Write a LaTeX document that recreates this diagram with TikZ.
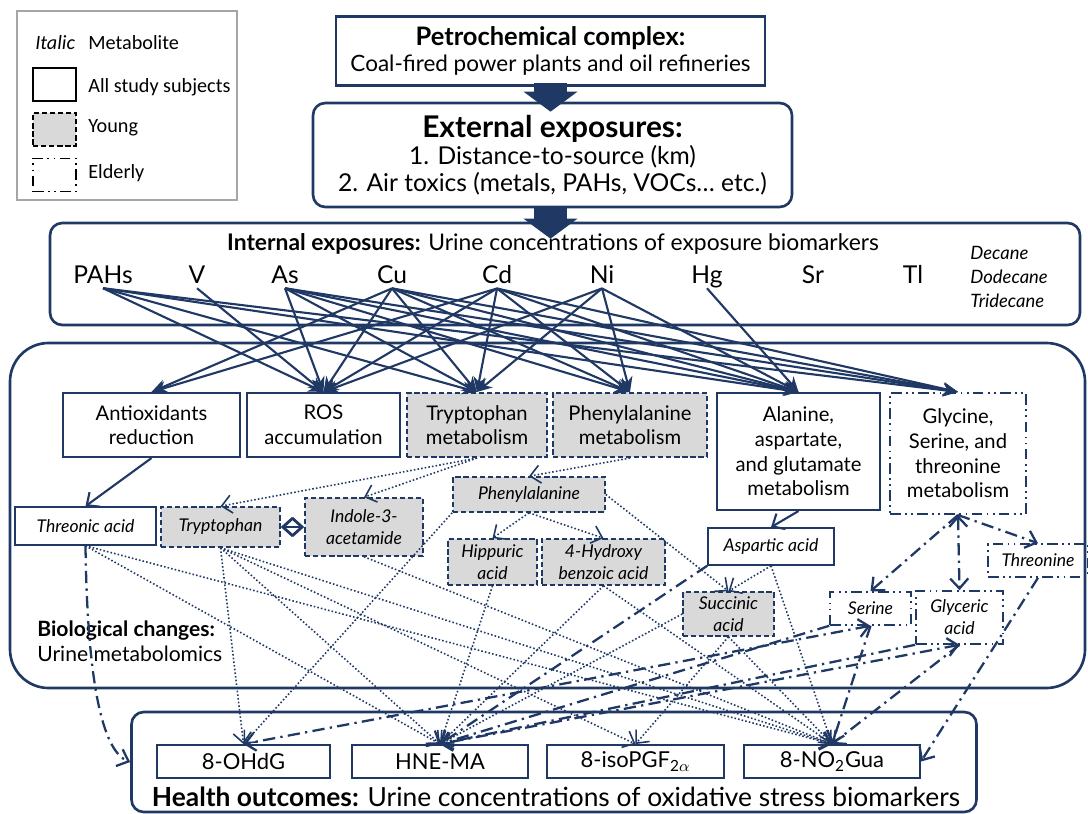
\documentclass[tikz,border=0pt]{standalone}
\usepackage{fontspec}
\setmainfont{Lato}
\newfontfamily\legendfont{Carlito}
\usepackage{tikz}
\usetikzlibrary{arrows.meta, positioning, calc}
\definecolor{navyline}{RGB}{32, 56, 100}
\definecolor{younggray}{RGB}{217, 217, 217}

\begin{document}
\begin{tikzpicture}[x=0.02cm, y=-0.02cm,
  >={Straight Barb[length=2mm, width=3.6mm]},
  boxsize/.style 2 args={minimum width=#1*0.02cm, minimum height=#2*0.02cm},
  youngline/.style={dash pattern=on 3pt off 1.6pt},
  elderline/.style={dash pattern=on 6pt off 2.5pt on 1pt off 2.5pt on 1pt off 2.5pt},
  bigbox/.style={draw=navyline, line width=1.5pt, align=center, inner sep=2pt},
  mechbox/.style={draw=navyline, line width=1.2pt, align=center, inner sep=1pt, font=\fontsize{11.5}{14}\selectfont},
  metbox/.style={draw=navyline, line width=0.9pt, align=center, inner sep=1pt, font=\fontsize{10}{12.5}\selectfont\itshape},
  outbox/.style={draw=navyline, line width=1.1pt, align=center, inner sep=1pt, font=\fontsize{12.5}{14}\selectfont},
  explabel/.style={font=\fontsize{14}{16}\selectfont, inner sep=1pt, text depth=0.3ex},
  legtext/.style={anchor=west, inner sep=0pt, font=\legendfont\fontsize{11.5}{13}\selectfont},
  bigarrow/.style={navyline, line width=0.66cm, -{Triangle[length=0.4cm, width=1.06cm]}},
  expoarrow/.style={navyline, line width=1.2pt, -{Stealth[length=3mm, width=2.6mm]}},
  allarrow/.style={navyline, line width=1.2pt, ->},
  youngarrow/.style={navyline, line width=0.9pt, dash pattern=on 0.9pt off 1.2pt, ->},
  elderarrow/.style={navyline, line width=1.3pt, dash pattern=on 7pt off 3pt on 1.3pt off 3pt, ->}
]
\useasboundingbox (0,0) rectangle (1088,814);

% legend
\draw[gray!70, line width=0.8pt] (17,11) rectangle (237,200);
\node[legtext] (legitalic) at (35,43) {\itshape Italic};
\node[legtext] (legmeta) at (88,43) {Metabolite};
\node[draw=black, line width=0.9pt, boxsize={43}{33}] (legall) at (54.5,84.5) {};
\node[legtext] (legalltext) at (88,87) {All study subjects};
\node[draw=black, fill=younggray, youngline, line width=0.9pt, boxsize={43}{33}] (legyoung) at (54.5,129.5) {};
\node[legtext] (legyoungtext) at (88,128) {Young};
\node[draw=black, elderline, line width=0.9pt, boxsize={43}{33}] (legelder) at (54.5,175) {};
\node[legtext] (legeldertext) at (88,173) {Elderly};

% sources and exposures
\node[bigbox, boxsize={429}{69}, font=\fontsize{12.8}{15}\selectfont] (petro) at (550.5,51)
  {{\fontsize{14.5}{15}\selectfont\textbf{Petrochemical complex:}}\\Coal-fired power plants and oil refineries};
\node[bigbox, rounded corners=7pt, boxsize={479}{104}, font=\fontsize{14}{15.3}\selectfont] (ext) at (552.5,155)
  {{\fontsize{17}{15.3}\selectfont\textbf{External exposures:}}\\1. Distance-to-source (km)\\2. Air toxics (metals, PAHs, VOCs\ldots{} etc.)};
\node[bigbox, rounded corners=7pt, boxsize={1030}{102}] (intl) at (565,274) {};
\node[font=\fontsize{13}{14}\selectfont, inner sep=0pt] (inttitle) at (553,244)
  {\textbf{Internal exposures:} Urine concentrations of exposure biomarkers};
\node[explabel] (pahs) at (103,276) {PAHs};
\node[explabel] (van) at (197,276) {V};
\node[explabel] (ars) at (285,276) {As};
\node[explabel] (cop) at (392,276) {Cu};
\node[explabel] (cad) at (497,276) {Cd};
\node[explabel] (nic) at (602,276) {Ni};
\node[explabel] (mer) at (707,276) {Hg};
\node[explabel] (str) at (813,276) {Sr};
\node[explabel] (tha) at (913,276) {Tl};
\node[anchor=west, align=left, inner sep=0pt, font=\fontsize{10.5}{13.5}\selectfont\itshape] (alkanes) at (970,277)
  {Decane\\Dodecane\\Tridecane};

\draw[bigarrow] ($(petro.south)+(0,-4)$) -- ($(petro.south |- ext.north)+(0,10)$);
\draw[bigarrow] ($(petro.south |- ext.south)+(0,-2)$) -- ($(petro.south |- intl.north)+(0,17)$);

% biological changes
\node[bigbox, rounded corners=22pt, boxsize={1075}{345}] (bio) at (547.5,515.5) {};
\node[anchor=west, align=left, inner sep=0pt, font=\fontsize{12}{14.5}\selectfont] (biolabel) at (37,641)
  {\textbf{Biological changes:}\\Urine metabolomics};

\node[mechbox, boxsize={177}{64}] (anti) at (151.5,425) {Antioxidants\\reduction};
\node[mechbox, boxsize={153}{64}] (ros) at (323.5,425) {ROS\\accumulation};
\node[mechbox, youngline, fill=younggray, boxsize={140}{64}] (tryM) at (477,425) {Tryptophan\\metabolism};
\node[mechbox, youngline, fill=younggray, boxsize={154}{64}] (pheM) at (630,425) {Phenylalanine\\metabolism};
\node[mechbox, boxsize={163}{117}] (alaM) at (798.5,451.5) {Alanine,\\aspartate,\\and glutamate\\metabolism};
\node[mechbox, elderline, boxsize={136}{121}] (glyM) at (958,453.5) {Glycine,\\Serine, and\\threonine\\metabolism};

\node[metbox, boxsize={141}{38}] (threonic) at (85.5,526) {Threonic acid};
\node[metbox, youngline, fill=younggray, boxsize={119}{40}] (tryp) at (220.5,527) {Tryptophan};
\node[metbox, youngline, fill=younggray, boxsize={118}{58}] (indole) at (364,527) {Indole-3-\\acetamide};
\node[metbox, youngline, fill=younggray, boxsize={152}{35}] (phe) at (529,494.5) {Phenylalanine};
\node[metbox, youngline, fill=younggray, boxsize={89}{46}] (hipp) at (492.5,562) {Hippuric\\acid};
\node[metbox, youngline, fill=younggray, boxsize={123}{46}] (hydroxy) at (603.5,562) {4-Hydroxy\\benzoic acid};
\node[metbox, boxsize={126}{37}] (asp) at (771,546.5) {Aspartic acid};
\node[metbox, youngline, fill=younggray, boxsize={91}{44}] (succ) at (728.5,614) {Succinic\\acid};
\node[metbox, elderline, boxsize={81}{33}] (serine) at (870.5,608.5) {Serine};
\node[metbox, elderline, boxsize={87}{53}] (glyceric) at (959.5,617.5) {Glyceric\\acid};
\node[metbox, elderline, boxsize={100}{33}] (threonine) at (1038,560.5) {Threonine};

% health outcomes
\node[bigbox, rounded corners=7pt, boxsize={845}{100}] (health) at (554,762) {};
\node[outbox, boxsize={173}{33}] (ohdg) at (243.5,761.5) {8-OHdG};
\node[outbox, boxsize={176}{33}] (hne) at (440,761.5) {HNE-MA};
\node[outbox, boxsize={177}{33}] (iso) at (635.5,761.5) {8-isoPGF\textsubscript{2$\alpha$}};
\node[outbox, boxsize={176}{33}] (no2) at (832,761.5) {8-NO\textsubscript{2}Gua};
\node[font=\fontsize{15}{16}\selectfont, inner sep=0pt] (healthlabel) at (556,797)
  {\textbf{Health outcomes:} Urine concentrations of oxidative stress biomarkers};

% exposure biomarkers -> pathways
\foreach \src/\dst in {pahs/ros, pahs/tryM, pahs/alaM, pahs/glyM, van/ros,
    ars/ros, ars/tryM, ars/pheM, ars/alaM, ars/glyM,
    cop/anti, cop/ros, cop/tryM, cop/pheM, cop/alaM, cop/glyM,
    cad/anti, cad/ros, cad/tryM, cad/pheM, cad/alaM, cad/glyM,
    nic/ros, nic/tryM, nic/pheM, nic/alaM, mer/alaM}
  \draw[expoarrow] (\src.south) -- (\dst.north);

% pathways -> metabolites
\draw[allarrow] (anti.south) -- (threonic.north);
\draw[allarrow] (alaM.south) -- (asp.north);
\draw[navyline, line width=1.6pt, <->] (tryp.east) -- (indole.west);
\foreach \src/\dst in {tryM.south/tryp.north, tryM.south/indole.north, pheM.south/phe.north,
    phe.south/hipp.north, phe.south/hydroxy.north, phe.east/succ.north, asp.south/succ.north}
  \draw[youngarrow] (\src) -- (\dst);
\draw[elderarrow] (glyM.south) -- (serine.north);
\draw[elderarrow, <->] (glyM.south) -- (glyceric.north);
\draw[elderarrow] (glyM.south) -- (threonine.north);

% metabolites -> oxidative stress
\foreach \src/\dst in {threonic.south/hne.north, threonic.south/no2.north,
    tryp.south/ohdg.north, tryp.south/hne.north, tryp.south/iso.north, tryp.south/no2.north,
    indole.south/no2.north, phe.south west/ohdg.north, hipp.south/hne.north,
    hydroxy.south/hne.north, hydroxy.south/no2.north, succ.west/hne.north,
    succ.south/iso.north, succ.south/no2.north, asp.south/no2.north}
  \draw[youngarrow] (\src) -- (\dst);
\foreach \src/\dst in {asp.south west/hne.north, serine.south west/hne.north,
    glyceric.south west/hne.north, serine.south/no2.north, glyceric.south/no2.north,
    threonine.south/no2.east}
  \draw[elderarrow] (\src) -- (\dst);
\draw[elderarrow, <->] (serine.south) -- (ohdg.north);
\draw[elderarrow, <->] (glyceric.south) -- (hne.north);
\draw[elderarrow] (threonic.south) .. controls ($(threonic.south)+(2,150)$) and ($(health.west)+(-25,-10)$) .. (health.west);
\end{tikzpicture}
\end{document}
